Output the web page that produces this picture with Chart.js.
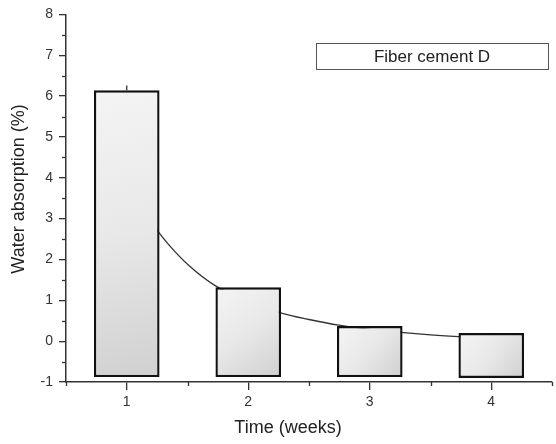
<!DOCTYPE html>
<html>
<head>
<meta charset="utf-8">
<script src="https://cdn.jsdelivr.net/npm/chart.js@4/dist/chart.umd.min.js"></script>
<style>
    body { margin: 0; background: #fff; }
    #wrap { width: 556px; height: 444px; }
</style>
</head>
<body>
<div id="wrap"><canvas id="chart" width="556" height="444"></canvas></div>
<script>
// values
let weeks = [1, 2, 3, 4];
let absorption = [6.14, 1.32, 0.37, 0.20];
let barBottom = [-0.88, -0.88, -0.88, -0.90];
let errorUp = [0.12, 0, 0, 0];

// fitted decay curve (mostly hidden behind the bars)
let fitX = [1.0, 1.254, 1.352, 1.516, 1.738, 2.0, 2.28, 2.5, 2.746, 3.0, 3.28, 3.5, 3.73, 4.0];
let fitY = [3.8, 2.70, 2.34, 1.84, 1.34, 0.98, 0.68, 0.53, 0.39, 0.29, 0.21, 0.155, 0.11, 0.075];

let legendText = 'Fiber cement D';
let xTitle = 'Time (weeks)';
let yTitle = 'Water absorption (%)';

const FONT = '"Liberation Sans", Arial, sans-serif';

function barFill(c) {
    let chart = c.chart;
    let xs = chart.scales.x, ys = chart.scales.y;
    if (!xs || !ys || !c.raw || !Array.isArray(c.raw.y)) return '#e0e0e0';
    let left = xs.getPixelForValue(c.raw.x - 0.26);
    let right = xs.getPixelForValue(c.raw.x + 0.26);
    let top = ys.getPixelForValue(c.raw.y[1]);
    let bottom = ys.getPixelForValue(c.raw.y[0]);
    if (![left, right, top, bottom].every(Number.isFinite)) return '#e0e0e0';
    let g = chart.ctx.createLinearGradient(left, top, right, bottom);
    g.addColorStop(0, '#f4f4f4');
    g.addColorStop(0.5, '#e8e8e8');
    g.addColorStop(1, '#d0d0d0');
    return g;
}

// minor ticks, error bar, titles and the legend box
const extras = {
    id: 'extras',
    afterDatasetsDraw(chart) {
        let ctx = chart.ctx;
        let xs = chart.scales.x, ys = chart.scales.y;
        ctx.save();
        ctx.strokeStyle = '#222';
        ctx.lineWidth = 1.2;
        for (let i = 0; i < weeks.length; i++) {
            if (!errorUp[i]) continue;
            let px = xs.getPixelForValue(weeks[i]);
            ctx.beginPath();
            ctx.moveTo(px, ys.getPixelForValue(absorption[i]));
            ctx.lineTo(px, ys.getPixelForValue(absorption[i] + errorUp[i]));
            ctx.stroke();
        }
        ctx.restore();
    },
    afterDraw(chart) {
        let ctx = chart.ctx;
        let xs = chart.scales.x, ys = chart.scales.y;
        ctx.save();
        ctx.strokeStyle = '#333';
        ctx.lineWidth = 1.3;
        xs.ticks.forEach(t => {
            if (Number.isInteger(t.value)) return;
            let px = Math.round(xs.getPixelForValue(t.value)) + 0.5;
            ctx.beginPath();
            ctx.moveTo(px, xs.top);
            ctx.lineTo(px, xs.top + 4);
            ctx.stroke();
        });
        ys.ticks.forEach(t => {
            if (Number.isInteger(t.value)) return;
            let py = Math.round(ys.getPixelForValue(t.value)) + 0.5;
            ctx.beginPath();
            ctx.moveTo(ys.right, py);
            ctx.lineTo(ys.right - 4, py);
            ctx.stroke();
        });

        // axis titles
        ctx.fillStyle = '#222';
        ctx.font = '18px ' + FONT;
        ctx.textAlign = 'center';
        ctx.textBaseline = 'middle';
        ctx.fillText(xTitle, 288, 428);
        ctx.save();
        ctx.translate(19, 189);
        ctx.rotate(-Math.PI / 2);
        ctx.fillText(yTitle, 0, 0);
        ctx.restore();

        // legend box
        ctx.strokeStyle = '#555';
        ctx.lineWidth = 1;
        ctx.strokeRect(316.5, 43.5, 232, 26);
        ctx.font = '17px ' + FONT;
        ctx.fillText(legendText, 432, 57);
        ctx.restore();
    }
};

let ctx = document.getElementById('chart');
new Chart(ctx, {
    type: 'bar',
    data: {
        datasets: [{
            type: 'bar',
            data: weeks.map((w, i) => ({x: w, y: [barBottom[i], absorption[i]]})),
            backgroundColor: barFill,
            borderColor: '#111',
            borderWidth: 2.4,
            borderSkipped: false,
            barPercentage: 1.08,
            categoryPercentage: 1,
            order: 1
        }, {
            type: 'line',
            data: fitX.map((x, i) => ({x: x, y: fitY[i]})),
            borderColor: '#333',
            borderWidth: 1.3,
            pointRadius: 0,
            cubicInterpolationMode: 'monotone',
            fill: false,
            order: 2
        }]
    },
    options: {
        responsive: false,
        animation: false,
        layout: {padding: {top: 14, right: 2, left: 0, bottom: 0}},
        plugins: {
            legend: {display: false},
            tooltip: {enabled: false}
        },
        scales: {
            x: {
                type: 'linear',
                min: 0.5,
                max: 4.5,
                offset: false,
                ticks: {
                    stepSize: 0.5,
                    autoSkip: false,
                    maxRotation: 0,
                    color: '#333',
                    font: {family: FONT, size: 14},
                    padding: 4,
                    callback: v => Number.isInteger(v) ? String(v) : ''
                },
                grid: {
                    offset: false,
                    drawOnChartArea: false,
                    tickLength: 8,
                    lineWidth: 1.3,
                    color: c => Number.isInteger(c.tick.value) ? '#333' : 'rgba(0,0,0,0)'
                },
                border: {color: '#333', width: 1.5},
                afterFit: s => { s.height = 62; }
            },
            y: {
                min: -1,
                max: 8,
                ticks: {
                    stepSize: 0.5,
                    autoSkip: false,
                    color: '#333',
                    font: {family: FONT, size: 14},
                    padding: 6,
                    callback: v => Number.isInteger(v) ? String(v) : ''
                },
                grid: {
                    drawOnChartArea: false,
                    tickLength: 7,
                    lineWidth: 1.3,
                    color: c => Number.isInteger(c.tick.value) ? '#333' : 'rgba(0,0,0,0)'
                },
                border: {color: '#333', width: 1.5},
                afterFit: s => { s.width = 66; }
            }
        }
    },
    plugins: [extras]
});
</script>
</body>
</html>
